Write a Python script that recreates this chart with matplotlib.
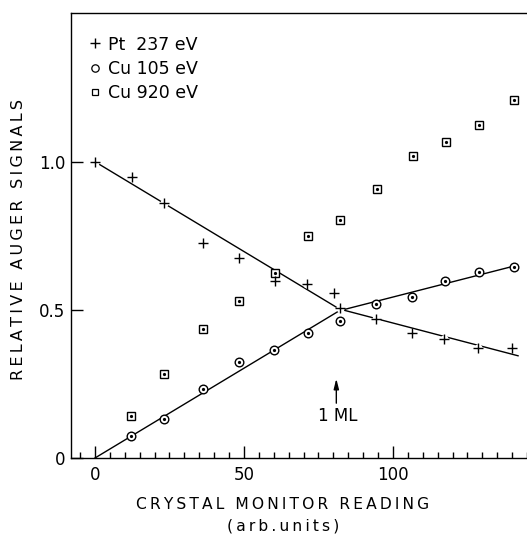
import matplotlib
matplotlib.use("Agg")
import matplotlib.pyplot as plt
from matplotlib.ticker import MultipleLocator
from matplotlib.lines import Line2D

# data
pt_x = [0, 12.3, 23.3, 36.1, 48.4, 60.4, 71.1, 80.3, 82.2, 94.3, 106.5, 117.2, 128.4, 140.0]
pt_y = [1.0, 0.947, 0.862, 0.725, 0.675, 0.599, 0.588, 0.556, 0.506, 0.469, 0.421, 0.401, 0.371, 0.371]

cu105_x = [12.1, 23.3, 36.3, 48.2, 60.2, 71.4, 82.4, 94.3, 106.5, 117.4, 128.9, 140.5]
cu105_y = [0.074, 0.133, 0.232, 0.323, 0.365, 0.423, 0.463, 0.520, 0.545, 0.596, 0.627, 0.645]

cu920_x = [12.1, 23.3, 36.3, 48.3, 60.4, 71.4, 82.4, 94.6, 106.6, 117.7, 128.9, 140.7]
cu920_y = [0.142, 0.284, 0.435, 0.531, 0.624, 0.748, 0.804, 0.909, 1.020, 1.066, 1.124, 1.208]

# hand-drawn guide lines
pt_fit_x = [0, 82, 142.0]
pt_fit_y = [1.0, 0.503, 0.345]
cu_fit_x = [0, 82, 141.5]
cu_fit_y = [0.0, 0.497, 0.650]

legend_labels = ["Pt  237 eV", "Cu 105 eV", "Cu 920 eV"]
xlabel = "CRYSTAL MONITOR READING"
xunits = "(arb.units)"
ylabel = "RELATIVE AUGER SIGNALS"


def spaced(s):
    # old lettering-guide look: thin spaces between letters, wider word gaps
    return "\u2009 \u2009".join("\u2009".join(w) for w in s.split(" "))


plt.rcParams['font.family'] = 'DejaVu Sans'

fig = plt.figure(figsize=(5.27, 5.35), dpi=100)
ax = fig.add_axes([71/527, 1 - 458/535, 456/527, 445/535])

ax.plot(pt_fit_x, pt_fit_y, color="black", lw=1.0, zorder=1)
ax.plot(cu_fit_x, cu_fit_y, color="black", lw=1.0, zorder=1)

# white halo behind crosses so the line breaks around them
ax.plot(pt_x, pt_y, ls="none", marker="o", ms=6, mfc="white", mec="none", zorder=2)
ax.plot(cu920_x, cu920_y, ls="none", marker="s", ms=5.3, mfc="white", mec="black", mew=1.0, zorder=3)
ax.plot(cu105_x, cu105_y, ls="none", marker="o", ms=6.2, mfc="white", mec="black", mew=1.0, zorder=3)
ax.plot(cu920_x + cu105_x, cu920_y + cu105_y, ls="none", marker="o", ms=1.3, color="black", zorder=4)
ax.plot(pt_x, pt_y, ls="none", marker="+", ms=6.5, mew=1.0, color="black", zorder=5)

handles = [
    Line2D([], [], ls="none", marker="+", ms=6.5, mew=1.0, color="black"),
    Line2D([], [], ls="none", marker="o", ms=5.3, mfc="white", mec="black", mew=0.9),
    Line2D([], [], ls="none", marker="s", ms=5, mfc="white", mec="black", mew=0.9),
]
ax.legend(handles, legend_labels, loc="upper left",
          bbox_to_anchor=(0.025, 0.965), frameon=False, fontsize=12.5,
          handlelength=0.6, handletextpad=0.5, labelspacing=0.35, borderaxespad=0)

# 1 ML marker
ax.annotate("", xy=(81, 0.268), xytext=(81, 0.185),
            arrowprops=dict(arrowstyle="-|>,head_length=0.6,head_width=0.15",
                            color="black", lw=1.0, shrinkA=0, shrinkB=0))
ax.text(81.5, 0.142, "1 ML", ha="center", va="center", fontsize=12)

ax.set_xlim(-8.05, 145)
ax.set_ylim(0, 1.502)
ax.set_xticks([0, 50, 100])
ax.xaxis.set_minor_locator(MultipleLocator(5))
ax.set_yticks([0, 0.5, 1.0])
ax.set_yticklabels(["0", "0.5", "1.0"])
ax.tick_params(which="major", direction="in", length=8.5, width=1.0, labelsize=12)
ax.tick_params(which="minor", direction="in", length=4.3, width=1.0)
ax.tick_params(axis="x", pad=6)
ax.tick_params(axis="y", pad=4)
ax.spines["right"].set_visible(False)
for s in ["left", "top", "bottom"]:
    ax.spines[s].set_linewidth(1.0)

ax.set_xlabel(spaced(xlabel) + "\n" + spaced(xunits), fontsize=11.2, linespacing=1.55)
ax.xaxis.set_label_coords((283 - 71) / 456, -0.088)
ax.set_ylabel(spaced(ylabel), fontsize=11.5)
ax.yaxis.set_label_coords((26 - 71) / 456, 0.49)

fig.savefig("out.png", dpi=100)
